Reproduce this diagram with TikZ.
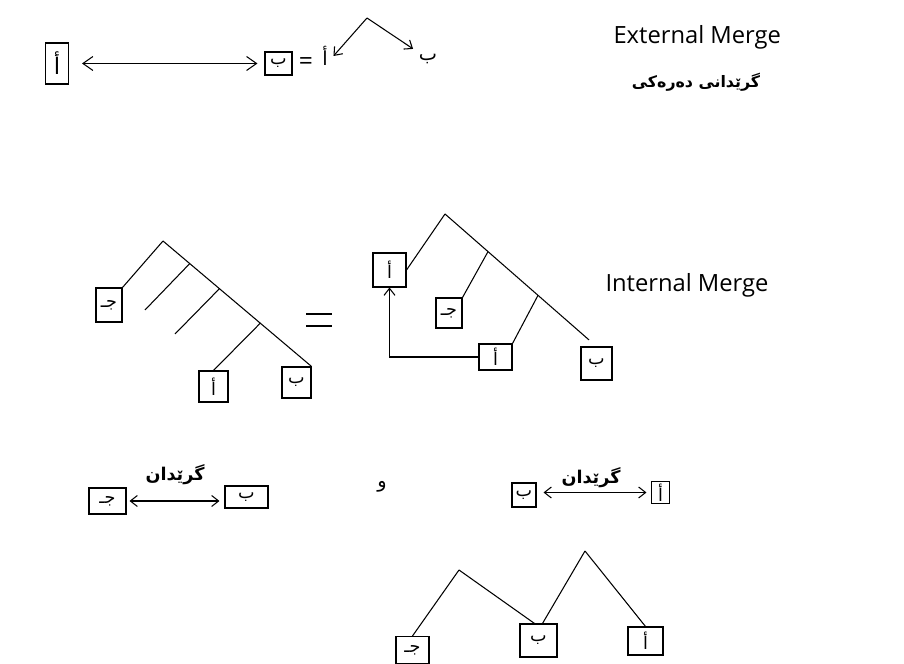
\documentclass[tikz,border=0pt]{standalone}
\usepackage{fontspec}
\setmainfont{Open Sans}
\newfontfamily\arabicfont[Script=Arabic]{DejaVu Sans}
\TeXXeTstate=1
\newcommand{\artxt}[1]{\beginR #1\endR}
\usetikzlibrary{arrows.meta, calc}

\begin{document}
\begin{tikzpicture}[x=0.2mm, y=-0.2mm, line width=0.6pt,
    every node/.style={font=\arabicfont\fontsize{10}{12}\selectfont},
    lbox/.style={draw, rectangle, inner sep=0pt},
    heading/.style={font=\fontsize{13.5}{16}\selectfont, anchor=base west, inner sep=0pt},
    linklabel/.style={font=\arabicfont\bfseries\fontsize{9}{11}\selectfont},
    >={Straight Barb[length=1.4mm, width=2.2mm]}]
    \useasboundingbox (0,0) rectangle (904,664);

    % external merge
    \node[lbox, minimum width=4.6mm, minimum height=8.2mm, font=\arabicfont\fontsize{13}{14}\selectfont] (a) at (57,63.5) {\artxt{أ}};
    \node[lbox, minimum width=5.4mm, minimum height=4.6mm] (b) at (278.5,63.5) {\artxt{ب}};
    \draw[<->, >={Straight Barb[length=2mm, width=2.8mm]}, shorten <=2.6mm, shorten >=1.4mm] (a) -- (b);
    \node[font=\fontsize{14}{16}\selectfont] (eq) at (306,64) {=};
    \node[inner sep=3pt, font=\arabicfont\fontsize{11}{13}\selectfont] (a0) at (325,56) {\artxt{أ}};
    \node[inner sep=3pt, font=\arabicfont\fontsize{11}{13}\selectfont] (b0) at (428,59.5) {\artxt{ب}};
    \coordinate (top) at (367,18);
    \draw[->] (top) -- (a0.east);
    \draw[->] (top) -- (b0.north west);

    \node[heading] (ext) at (613,44) {External Merge};
    \node[linklabel] (extk) at (696,82) {\artxt{گرێدانی دەرەکی}};

    % internal merge, left tree
    \coordinate (lt) at (163,241);
    \node[lbox, minimum width=5.2mm, minimum height=6.8mm] (lc) at (109,305) {\artxt{جـ}};
    \node[lbox, minimum width=5.8mm, minimum height=6.2mm] (la) at (213.5,386.5) {\artxt{أ}};
    \node[lbox, minimum width=5.8mm, minimum height=6.2mm] (lb) at (296.5,382.5) {\artxt{ب}};
    \coordinate (j1) at ($(lt)!0.18!(lb.north east)$);
    \coordinate (j2) at ($(lt)!0.38!(lb.north east)$);
    \coordinate (j3) at ($(lt)!0.655!(lb.north east)$);
    \coordinate (f1) at (145,310);
    \coordinate (f2) at (175,334);
    \draw (lt) -- (lc.north east);
    \draw (lt) -- (lb.north east);
    \draw (j1) -- (f1);
    \draw (j2) -- (f2);
    \draw (j3) -- (la.north);

    \draw (306,314) -- (332,314);
    \draw (306,326) -- (332,326);

    % internal merge, right tree
    \coordinate (rt) at (445,214);
    \node[lbox, minimum width=6.6mm, minimum height=6.8mm] (ra) at (389.5,270) {\artxt{أ}};
    \node[lbox, minimum width=5.2mm, minimum height=6mm] (rc) at (449,313) {\artxt{جـ}};
    \node[lbox, minimum width=6.6mm, minimum height=5.2mm] (rd) at (495.5,357) {\artxt{أ}};
    \node[lbox, minimum width=6.2mm, minimum height=6.6mm] (rb) at (596.5,363.5) {\artxt{ب}};
    \coordinate (rj1) at ($(rt)!0.284!(rb.north)$);
    \coordinate (rj2) at ($(rt)!0.614!(rb.north)$);
    \draw (rt) -- (ra.east);
    \draw[shorten >=2mm] (rt) -- (rb.north);
    \draw (rj1) -- (rc.north east);
    \draw (rj2) -- (rd.north east);
    \draw[->] (rd.west) -| (ra.south);

    \node[heading] (int) at (605,292) {Internal Merge};

    % merge pairs
    \node[lbox, minimum width=7.4mm, minimum height=5.2mm] (bc) at (107.5,501) {\artxt{جـ}};
    \node[lbox, minimum width=8.6mm, minimum height=4.4mm] (bb) at (246.5,497) {\artxt{ب}};
    \draw[<->, shorten <=0.6mm, shorten >=1mm] (bc.east) -- (bc.east -| bb.west);
    \node[linklabel, font=\arabicfont\bfseries\fontsize{10}{12}\selectfont] (g1) at (175,475) {\artxt{گرێدان}};

    \node[font=\arabicfont\fontsize{11}{13}\selectfont] (w) at (382,487) {\artxt{و}};

    \node[lbox, minimum width=4.8mm, minimum height=4.8mm] (bb2) at (524,495) {\artxt{ب}};
    \node[lbox, minimum width=3.6mm, minimum height=4.4mm] (ba2) at (660.5,492.5) {\artxt{أ}};
    \draw[<->, shorten <=1.4mm, shorten >=0.9mm] (ba2.west -| bb2.east) -- (ba2.west);
    \node[linklabel, font=\arabicfont\bfseries\fontsize{10}{12}\selectfont] (g2) at (591,478) {\artxt{گرێدان}};

    % merged tree
    \coordinate (p1) at (459,570);
    \coordinate (p2) at (585,551);
    \node[lbox, minimum width=6.6mm, minimum height=5.4mm] (tc) at (412.5,650) {\artxt{جـ}};
    \node[lbox, minimum width=7.4mm, minimum height=6.6mm] (tb) at (538.5,640.5) {\artxt{ب}};
    \node[lbox, minimum width=7mm, minimum height=5.6mm] (ta) at (645.5,641) {\artxt{أ}};
    \draw (p1) -- (tc.north);
    \draw (p1) -- ([xshift=-0.8mm]tb.north);
    \draw (p2) -- ([xshift=0.8mm]tb.north);
    \draw (p2) -- (ta.north);
\end{tikzpicture}
\end{document}
